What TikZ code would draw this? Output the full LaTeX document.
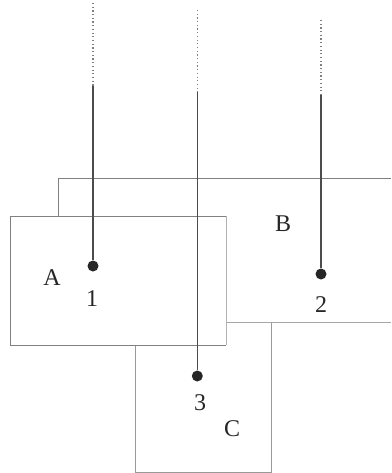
\documentclass[tikz,border=0pt]{standalone}
\usepackage{fontspec}
\setmainfont{Liberation Serif}
\begin{document}
\begin{tikzpicture}[x=1pt,y=-1pt,
  boxline/.style={draw=black!50,line width=1pt},
  lead/.style={draw=black!70,line width=1.6pt},
  dots/.style={draw=black!50,line width=1.2pt,dash pattern=on 1.2pt off 2.5pt},
  pin/.style={circle,fill=black!85,inner sep=0pt,minimum size=11pt},
  lbl/.style={font=\fontsize{24}{26}\selectfont,text=black!85,inner sep=0pt}]
\useasboundingbox (0,0) rectangle (391,473);
% box C (behind)
\draw[boxline,draw=black!40] (135,345) -- (135,472) -- (271,472) -- (271,322);
% box B
\draw[boxline] (58,216) -- (58,178) -- (391,178);
\draw[boxline,draw=black!35] (226,322) -- (391,322);
% box A (front)
\draw[boxline] (226,216) -- (10,216) -- (10,345) -- (226,345);
\draw[boxline,draw=black!30] (226,216) -- (226,345);
% pins
\node[pin] (p1) at (93,266) {};
\node[pin] (p2) at (321,274) {};
\node[pin] (p3) at (197.3,376) {};
\coordinate (t1) at (93,3);   \coordinate (m1) at (93,86);
\coordinate (t2) at (321,20); \coordinate (m2) at (321,95);
\coordinate (t3) at (197.3,10); \coordinate (m3) at (197.3,92);
\draw[dots] (t1) -- (m1);
\draw[dots] (t2) -- (m2);
\draw[dots] (t3) -- (m3);
\draw[lead] (m1) -- (p1);
\draw[lead] (m2) -- (p2);
\draw[lead] (m3) -- (p3);
% labels
\node[lbl] (la) at (52,278) {A};
\node[lbl] (lb) at (283,224) {B};
\node[lbl] (lc) at (232,429) {C};
\node[lbl] (l1) at (92,299) {1};
\node[lbl] (l2) at (321,305) {2};
\node[lbl] (l3) at (200,403) {3};
\end{tikzpicture}
\end{document}
